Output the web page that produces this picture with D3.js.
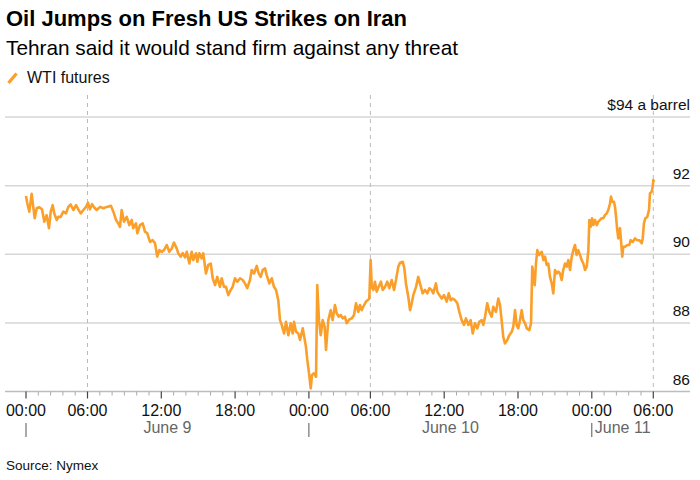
<!DOCTYPE html>
<html>
<head>
<meta charset="utf-8">
<script src="https://cdn.jsdelivr.net/npm/d3@7"></script>
<style>
  body { margin: 0; background: #fff; }
  svg { font-family: "Liberation Sans", Arial, sans-serif; }
</style>
</head>
<body>
<script>
var w = 700;
var h = 480;

// clock hours since June 9 00:00 (the 05:00-06:00 break is skipped on the axis)
var hours = [0, 0.11, 0.27, 0.46, 0.59, 0.71, 0.87, 1.08, 1.30, 1.49, 1.68, 1.87, 2.01, 2.17, 2.30, 2.50, 2.63, 2.82, 3.03, 3.25, 3.44, 3.63, 3.85, 4.07, 4.25, 4.45, 4.66, 4.88,
  6.04, 6.20, 6.37, 6.53, 6.75, 7.02, 7.28, 7.56, 7.91, 8.10, 8.32, 8.50, 8.64, 8.78, 8.97, 9.19, 9.40, 9.59, 9.72, 9.94, 10.05, 10.27, 10.49, 10.67, 10.86, 11.08, 11.30, 11.49, 11.67, 11.84,
  12.03, 12.22, 12.44, 12.65, 12.85, 13.03, 13.25, 13.38, 13.58, 13.74, 13.93, 14.07, 14.28, 14.47, 14.60, 14.82, 14.93, 15.09, 15.28, 15.41, 15.63, 15.82, 16.02, 16.18, 16.37, 16.55, 16.77, 16.91, 17.10, 17.26, 17.45, 17.64, 17.80, 17.99, 18.18, 18.40, 18.62, 18.80, 18.99, 19.21, 19.35, 19.54,
  19.76, 19.92, 20.08, 20.24, 20.43, 20.57, 20.78, 20.98, 21.16, 21.33, 21.51, 21.65, 21.79, 21.98, 22.14, 22.33, 22.52, 22.68, 22.79, 22.95, 23.14, 23.28, 23.50, 23.60, 23.76, 23.87, 24.01, 24.15, 24.25, 24.41,
  24.58, 24.68, 24.82, 24.96, 25.12, 25.28, 25.39, 25.58, 25.77, 25.93, 26.12, 26.26, 26.42, 26.59, 26.75, 26.93, 27.07, 27.28, 27.48, 27.67, 27.83, 28.02, 28.15, 28.29, 28.42, 28.64, 28.78, 28.91, 30.02, 30.11,
  30.24, 30.37, 30.51, 30.67, 30.86, 31.00, 31.19, 31.37, 31.54, 31.73, 31.92, 32.08, 32.27, 32.41, 32.63, 32.76, 32.89, 33.08, 33.22, 33.36, 33.49, 33.71, 33.89, 34.03, 34.25, 34.44, 34.63, 34.79, 34.98, 35.11, 35.33, 35.44, 35.60, 35.80, 35.98, 36.20, 36.37, 36.53, 36.69, 36.88,
  37.07, 37.23, 37.42, 37.61, 37.77, 37.96, 38.15, 38.32, 38.50, 38.69, 38.85, 39.05, 39.18, 39.32, 39.50, 39.67, 39.86, 39.99, 40.21, 40.40, 40.54, 40.67, 40.80, 40.94, 41.13, 41.29, 41.49, 41.62, 41.76, 41.89, 42.02, 42.16, 42.30, 42.43, 42.57, 42.71, 42.92, 43.06, 43.16, 43.24,
  43.36, 43.46, 43.57, 43.73, 43.93, 44.06, 44.20, 44.33, 44.46, 44.60, 44.74, 44.87, 45.01, 45.15, 45.28, 45.41, 45.55, 45.68, 45.82, 45.96, 46.09, 46.23, 46.37, 46.50, 46.63, 46.77, 46.90, 47.04, 47.18, 47.31, 47.45, 47.59, 47.72, 47.80, 47.91, 48.02, 48.12, 48.26, 48.40, 48.53,
  48.67, 48.80, 48.94, 49.07, 49.21, 49.34, 49.48, 49.56, 49.67, 49.80, 49.89, 49.97, 50.07, 50.15, 50.29, 50.37, 50.48, 50.56, 50.70, 50.89, 51.05, 51.16, 51.33, 51.51, 51.70, 51.86, 52.06, 52.14, 52.24, 52.35, 52.51, 52.65, 52.73, 52.87, 52.95, 54.00, 54.08];

// WTI futures, $ a barrel
var prices = [91.70, 91.48, 91.24, 91.76, 91.38, 91.05, 91.34, 91.37, 91.31, 90.95, 91.14, 90.76, 91.24, 91.43, 91.19, 91.00, 91.09, 91.09, 91.24, 91.19, 91.38, 91.45, 91.29, 91.43, 91.31, 91.19, 91.29, 91.38,
  91.50, 91.31, 91.46, 91.37, 91.29, 91.38, 91.34, 91.38, 91.41, 91.24, 91.00, 90.90, 90.80, 91.29, 90.95, 91.09, 90.85, 91.00, 90.76, 90.90, 90.61, 90.85, 90.90, 90.66, 90.61, 90.36, 90.41, 90.32, 89.93, 90.12,
  90.07, 90.12, 90.27, 90.07, 90.17, 90.34, 90.17, 90.03, 89.93, 90.03, 89.91, 90.07, 89.73, 90.07, 89.83, 90.03, 89.78, 90.03, 89.88, 90.03, 89.44, 89.69, 89.73, 89.30, 89.10, 89.34, 89.05, 89.30, 89.05, 89.05, 88.81, 88.96, 89.05, 89.30, 89.20, 89.30, 89.25, 89.15, 89.01, 89.25, 89.54, 89.44,
  89.66, 89.44, 89.34, 89.54, 89.59, 89.39, 89.15, 89.30, 89.05, 88.96, 88.66, 88.08, 87.94, 87.69, 88.03, 87.64, 87.99, 87.69, 88.03, 87.74, 87.69, 87.50, 87.84, 87.64, 87.30, 86.92, 86.53, 86.09, 86.48, 86.53,
  86.43, 89.10, 88.08, 87.64, 88.08, 87.89, 87.21, 88.08, 88.37, 88.08, 88.52, 88.28, 88.18, 88.23, 88.13, 88.18, 87.99, 88.10, 88.13, 88.23, 88.57, 88.32, 88.52, 88.37, 88.47, 88.62, 88.66, 88.71, 89.83, 89.05,
  88.96, 89.20, 88.91, 89.05, 89.20, 88.96, 89.05, 89.20, 89.01, 89.25, 88.96, 89.25, 89.64, 89.75, 89.78, 89.59, 89.15, 88.76, 88.37, 88.57, 88.81, 89.05, 89.34, 89.15, 88.86, 88.96, 88.86, 89.01, 88.96, 88.86, 89.15, 88.91, 88.81, 88.71, 88.81, 88.62, 88.86, 88.66, 88.71, 88.66,
  88.57, 88.32, 88.08, 87.94, 88.13, 87.94, 88.08, 87.69, 87.99, 87.84, 88.03, 88.08, 87.94, 88.18, 88.57, 88.32, 88.18, 88.47, 88.32, 88.71, 88.52, 88.08, 87.59, 87.40, 87.50, 87.64, 87.74, 87.89, 88.37, 87.94, 87.84, 88.08, 88.37, 88.08, 87.99, 87.84, 87.79, 87.99, 89.64, 89.44,
  89.10, 89.73, 90.12, 89.98, 90.07, 89.83, 89.93, 89.69, 89.73, 89.34, 89.15, 88.86, 89.54, 89.44, 89.49, 89.44, 89.25, 89.54, 89.73, 89.64, 89.83, 89.54, 89.93, 90.12, 90.27, 89.98, 90.12, 89.98, 89.83, 89.73, 89.54, 89.64, 90.12, 91.00, 90.80, 91.05, 90.85, 91.00, 90.85, 90.95,
  91.00, 91.05, 91.05, 91.14, 91.19, 91.29, 91.48, 91.68, 91.53, 91.53, 91.38, 91.09, 90.71, 90.46, 90.76, 90.41, 89.93, 90.22, 90.22, 90.27, 90.27, 90.41, 90.36, 90.46, 90.41, 90.41, 90.32, 90.46, 90.90, 91.05, 91.09, 91.29, 91.78, 91.82, 91.97, 92.16, 92.11];

var yTicks = [86, 88, 90, 92, 94];
var majorHours = [0, 6, 12, 18, 24, 30, 36, 42, 48, 54];
var majorLabels = ["00:00", "06:00", "12:00", "18:00", "00:00", "06:00", "12:00", "18:00", "00:00", "06:00"];
var sessionHours = [6, 30, 54]; // dashed lines at the session open
var dayStarts = [0, 24, 48];
var dayLabels = ["June 9", "June 10", "June 11"];

// drop the daily 05:00-06:00 trading break from the time axis
function tradeHour(c) {
  var day = Math.floor(c / 24);
  var hr = c - day * 24;
  var t = hr < 5 ? hr : (hr < 6 ? 5 : hr - 1);
  return day * 23 + t;
}

var x = d3.scaleLinear().domain([0, 51]).range([26, 653.3]);
var y = d3.scaleLinear().domain([86, 94]).range([391.5, 117]);

var data = hours.map(function(d, i) {
  return { t: d, v: prices[i] };
});

var svg = d3.select("body")
  .append("svg")
  .attr("width", w)
  .attr("height", h);

// titles
svg.append("text")
  .attr("x", 6).attr("y", 26)
  .style("font-size", "22px").style("font-weight", "bold").style("fill", "#000")
  .text("Oil Jumps on Fresh US Strikes on Iran");

svg.append("text")
  .attr("x", 6).attr("y", 55)
  .style("font-size", "20.8px").style("fill", "#000")
  .text("Tehran said it would stand firm against any threat");

// legend
svg.append("line")
  .attr("x1", 8.5).attr("y1", 83).attr("x2", 16.5).attr("y2", 73.5)
  .style("stroke", "#fb9f2b").style("stroke-width", 3.2);
svg.append("text")
  .attr("x", 27).attr("y", 83)
  .style("font-size", "16px").style("fill", "#111")
  .text("WTI futures");

// gridlines
svg.selectAll(".grid")
  .data(yTicks.slice(1))
  .enter()
  .append("line")
  .attr("class", "grid")
  .attr("x1", 5).attr("x2", 690)
  .attr("y1", function(d) { return y(d); })
  .attr("y2", function(d) { return y(d); })
  .style("stroke", "#d6d6d6").style("stroke-width", 1.5);

// dashed session lines
svg.selectAll(".session")
  .data(sessionHours)
  .enter()
  .append("line")
  .attr("class", "session")
  .attr("x1", function(d) { return x(tradeHour(d)); })
  .attr("x2", function(d) { return x(tradeHour(d)); })
  .attr("y1", 95).attr("y2", y(86))
  .style("stroke", "#bbb").style("stroke-width", 1).style("stroke-dasharray", "4,4");

// y labels sit above their gridlines
svg.selectAll(".ylab")
  .data(yTicks)
  .enter()
  .append("text")
  .attr("class", "ylab")
  .attr("x", 690)
  .attr("y", function(d) { return y(d) - 7; })
  .attr("text-anchor", "end")
  .style("font-size", "15.5px").style("fill", "#111")
  .text(function(d) { return d == 94 ? "$94 a barrel" : d; });

// x axis with hourly minor ticks
var minorHours = d3.range(0, 55).filter(function(d) {
  return d % 24 != 5 && majorHours.indexOf(d) < 0;
});

var xAxis = svg.append("g").attr("transform", "translate(0," + y(86) + ")");
xAxis.append("line")
  .attr("x1", 5).attr("x2", 690)
  .style("stroke", "#bdbdbd").style("stroke-width", 1.5);
xAxis.selectAll(".minor")
  .data(minorHours)
  .enter()
  .append("line")
  .attr("x1", function(d) { return x(tradeHour(d)); })
  .attr("x2", function(d) { return x(tradeHour(d)); })
  .attr("y1", 0).attr("y2", 4)
  .style("stroke", "#aaa").style("stroke-width", 1);
xAxis.selectAll(".major")
  .data(majorHours)
  .enter()
  .append("line")
  .attr("x1", function(d) { return x(tradeHour(d)); })
  .attr("x2", function(d) { return x(tradeHour(d)); })
  .attr("y1", 0).attr("y2", 7)
  .style("stroke", "#444").style("stroke-width", 1.2);
xAxis.selectAll(".xlab")
  .data(majorHours)
  .enter()
  .append("text")
  .attr("x", function(d) { return x(tradeHour(d)); })
  .attr("y", 24)
  .attr("text-anchor", "middle")
  .style("font-size", "16px").style("fill", "#111")
  .text(function(d, i) { return majorLabels[i]; });

// day markers and labels
svg.selectAll(".daybar")
  .data(dayStarts)
  .enter()
  .append("line")
  .attr("x1", function(d) { return x(tradeHour(d)); })
  .attr("x2", function(d) { return x(tradeHour(d)); })
  .attr("y1", 423).attr("y2", 437)
  .style("stroke", "#555").style("stroke-width", 1);

svg.selectAll(".daylab")
  .data(dayStarts)
  .enter()
  .append("text")
  .attr("x", function(d, i) {
    if (i == dayStarts.length - 1) return x(tradeHour(d)) + 3; // last day is cut short
    return (x(tradeHour(d)) + x(tradeHour(d + 24))) / 2;
  })
  .attr("y", 433)
  .attr("text-anchor", function(d, i) { return i == dayStarts.length - 1 ? "start" : "middle"; })
  .style("font-size", "16px").style("fill", "#666")
  .text(function(d, i) { return dayLabels[i]; });

// price line
var line = d3.line()
  .x(function(d) { return x(tradeHour(d.t)); })
  .y(function(d) { return y(d.v); });

svg.append("path")
  .datum(data)
  .attr("d", line)
  .style("fill", "none")
  .style("stroke", "#fb9f2b")
  .style("stroke-width", 2.6)
  .style("stroke-linejoin", "round");

// source
svg.append("text")
  .attr("x", 6).attr("y", 470)
  .style("font-size", "13.5px").style("fill", "#111")
  .text("Source: Nymex");
</script>
</body>
</html>
